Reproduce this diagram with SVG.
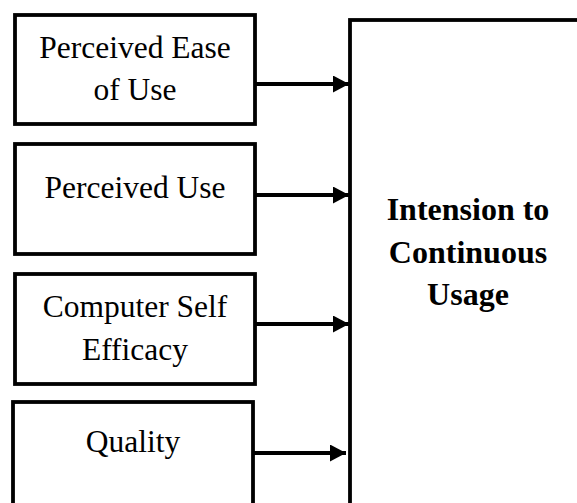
<svg xmlns="http://www.w3.org/2000/svg" width="577" height="503" viewBox="0 0 577 503">
<style>
.box{fill:#fff;stroke:#000;stroke-width:3.8}
.t{font-family:"Liberation Serif","Times New Roman",serif;font-size:31.5px;fill:#000;text-anchor:middle}
.b{font-weight:bold;font-size:32px}
.c{stroke:#000;stroke-width:4;fill:none}
</style>
<defs>
<marker id="ah" markerWidth="16" markerHeight="17" refX="16" refY="8.5" orient="auto" markerUnits="userSpaceOnUse">
<path d="M0,0 L16,8.5 L0,17 Z" fill="#000"/>
</marker>
</defs>
<rect width="577" height="503" fill="#fff"/>
<g id="target">
<rect class="box" x="350" y="20" width="240" height="500"/>
<text class="t b" x="468" y="220">Intension to</text>
<text class="t b" x="468" y="263">Continuous</text>
<text class="t b" x="468" y="305">Usage</text>
</g>
<g id="peou">
<rect class="box" x="15" y="15" width="240" height="109"/>
<text class="t" x="135" y="58">Perceived Ease</text>
<text class="t" x="135" y="100">of Use</text>
</g>
<g id="pu">
<rect class="box" x="15" y="144" width="240" height="110"/>
<text class="t" x="135" y="198">Perceived Use</text>
</g>
<g id="cse">
<rect class="box" x="15" y="274" width="240" height="110"/>
<text class="t" x="135" y="317">Computer Self</text>
<text class="t" x="135" y="360">Efficacy</text>
</g>
<g id="quality">
<rect class="box" x="13" y="402" width="240" height="120"/>
<text class="t" x="133" y="452">Quality</text>
</g>
<g id="connectors">
<line class="c" x1="256" y1="84" x2="349" y2="84" marker-end="url(#ah)"/>
<line class="c" x1="256" y1="195" x2="349" y2="195" marker-end="url(#ah)"/>
<line class="c" x1="256" y1="324" x2="349" y2="324" marker-end="url(#ah)"/>
<line class="c" x1="254" y1="453" x2="346" y2="453" marker-end="url(#ah)"/>
</g>
</svg>
